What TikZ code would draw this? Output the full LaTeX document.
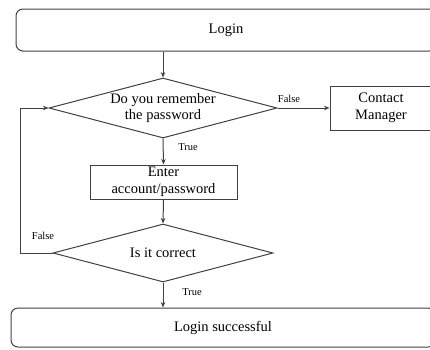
\documentclass[tikz,border=0pt]{standalone}
\usepackage{fontspec}
\setmainfont{Liberation Serif}
\usetikzlibrary{shapes.geometric,arrows.meta}
\begin{document}
\begin{tikzpicture}[x=1pt,y=-1pt,
  every node/.style={font=\fontsize{14.5}{16.5}\selectfont, text=black},
  line/.style={draw=black!75, line width=1pt},
  arr/.style={line, -{Stealth[length=5.5pt,width=4.5pt]}},
  rbox/.style={line, rounded corners=7pt, inner sep=0pt},
  sbox/.style={line, inner sep=0pt, align=center},
  dia/.style={line, shape=diamond, aspect=3.8, inner sep=0pt, align=center},
  lab/.style={font=\fontsize{10.5}{12}\selectfont}]
\useasboundingbox (0,0) rectangle (430,349);
\node[rbox, minimum width=420pt, minimum height=42pt] (login) at (226,30) {Login};
\node[dia, minimum width=228pt, minimum height=60pt] (d1) at (163,108) {Do you remember\\the password};
\node[sbox, minimum width=102pt, minimum height=44pt] (cm) at (381,108) {Contact\\Manager};
\node[sbox, minimum width=147pt, minimum height=34pt] (enter) at (163.5,182) {Enter\\account/password};
\node[dia, minimum width=220pt, minimum height=58pt] (d2) at (163,253) {Is it correct};
\node[rbox, minimum width=424pt, minimum height=39pt] (succ) at (223,327.5) {Login successful};
\draw[arr] (d1.north |- login.south) -- (d1.north);
\draw[arr] (d1.east) -- (cm.west);
\draw[arr] (d1.south) -- (enter.north);
\draw[arr] (enter.south) -- (d2.north);
\draw[arr] (d2.west) -- ++(-32,0) |- (d1.west);
\draw[arr] (d2.south) -- (d2.south |- succ.north);
\node[lab] (f1) at (289,99) {False};
\node[lab] (t1) at (188,147) {True};
\node[lab] (f2) at (43,236) {False};
\node[lab] (t2) at (192,292) {True};
\end{tikzpicture}
\end{document}
